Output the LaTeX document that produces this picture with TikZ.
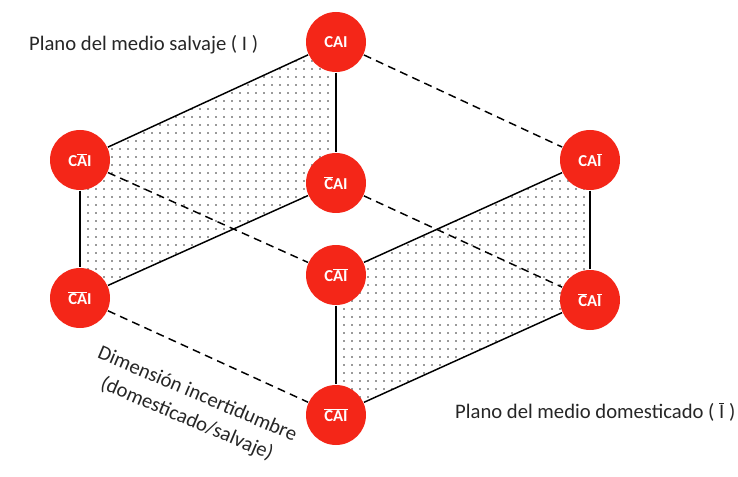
\documentclass[tikz,border=0pt]{standalone}
\usepackage{fontspec}
\setmainfont{Carlito}
\usetikzlibrary{patterns.meta,backgrounds}
\definecolor{caired}{RGB}{244,38,24}
\def\ol#1{$\overline{\mbox{#1}}$}
\tikzset{
	cai/.style={circle, fill=caired, minimum size=45pt, inner sep=0pt, text=white, font=\fontsize{12.5}{12.5}\selectfont\bfseries},
	plano/.style={pattern={Dots[distance=6pt,radius=0.6pt]}, pattern color=black!80},
	lbl/.style={font=\fontsize{15.5}{20}\selectfont, text=black!85}
}

\begin{document}
\begin{tikzpicture}[x=0.75pt, y=-0.75pt, line width=1.1pt]
		%%%%% START %%%%%
		\useasboundingbox (0, 0) rectangle (738, 477);
		
		\node[cai] (cai) at (336, 42) {CAI};
		\node[cai] (cnai) at (80, 160) {C\ol{A}I};
		\node[cai] (ncai) at (336, 183) {\ol{C}AI};
		\node[cai] (cani) at (590, 160) {CA\ol{I}};
		\node[cai] (ncnai) at (80, 298) {\ol{CA}I};
		\node[cai] (cnani) at (336, 275) {C\ol{AI}};
		\node[cai] (ncani) at (590, 300) {\ol{C}A\ol{I}};
		\node[cai] (ncnani) at (336, 415) {\ol{CAI}};
		
		\begin{scope}[on background layer]
			\fill[plano] (cnai.center) -- (cai.center) -- (ncai.center) -- (ncnai.center) -- cycle;
			\fill[plano] (cnani.center) -- (cani.center) -- (ncani.center) -- (ncnani.center) -- cycle;
		\end{scope}
		
		% plano salvaje
		\draw (cnai) -- (cai);
		\draw (cai) -- (ncai);
		\draw (ncai) -- (ncnai);
		\draw (cnai) -- (ncnai);
		
		% plano domesticado
		\draw (cnani) -- (cani);
		\draw (cani) -- (ncani);
		\draw (ncani) -- (ncnani);
		\draw (cnani) -- (ncnani);
		
		% dimension incertidumbre
		\draw[dashed, dash pattern=on 6pt off 4pt] (cai) -- (cani);
		\draw[dashed, dash pattern=on 6pt off 4pt] (cnai) -- (cnani);
		\draw[dashed, dash pattern=on 6pt off 4pt] (ncai) -- (ncani);
		\draw[dashed, dash pattern=on 6pt off 4pt] (ncnai) -- (ncnani);
		
		\node[lbl, anchor=west] (salvaje) at (24, 45) {Plano del medio salvaje ( I )};
		\node[lbl, anchor=west] (domesticado) at (450, 412) {Plano del medio domesticado ( \ol{I} )};
		\node[lbl, align=center, rotate=-23] (dimension) at (192, 407) {Dimensión incertidumbre\\(domesticado/salvaje)};
		
		%%%%% END %%%%%
	\end{tikzpicture}
\end{document}
